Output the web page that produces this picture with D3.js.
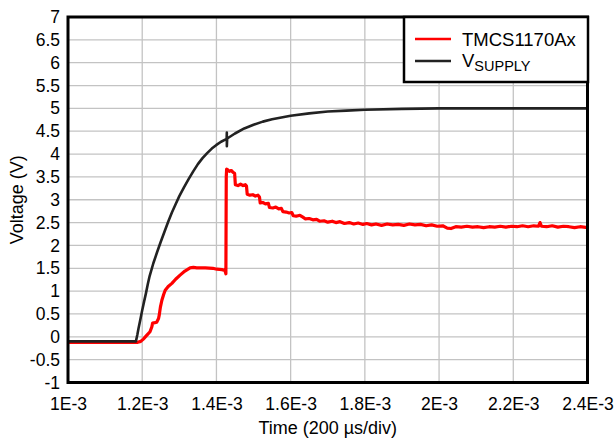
<!DOCTYPE html>
<html>
<head>
<meta charset="utf-8">
<script src="https://cdn.jsdelivr.net/npm/d3@7/dist/d3.min.js"></script>
<style>
  html, body { margin: 0; padding: 0; background: #fff; }
  svg { display: block; }
  text { font-family: "Liberation Sans", Arial, sans-serif; fill: #000; }
</style>
</head>
<body>
<svg id="chart" width="616" height="439"></svg>
<script>
// Time axis in milliseconds; labels are written in seconds.
const timeTicks = [1.0, 1.2, 1.4, 1.6, 1.8, 2.0, 2.2, 2.4];
const timeTickLabels = ["1E-3", "1.2E-3", "1.4E-3", "1.6E-3", "1.8E-3", "2E-3", "2.2E-3", "2.4E-3"];
const voltTicks = [-1, -0.5, 0, 0.5, 1, 1.5, 2, 2.5, 3, 3.5, 4, 4.5, 5, 5.5, 6, 6.5, 7];
const voltTickLabels = ["-1", "-0.5", "0", "0.5", "1", "1.5", "2", "2.5", "3", "3.5", "4", "4.5", "5", "5.5", "6", "6.5", "7"];

const seriesNames = ["TMCS1170Ax", "VSUPPLY"];

// Sensor output (TMCS1170Ax)
const sensorTime = [
  1.000, 1.188, 1.196, 1.203, 1.212, 1.221, 1.226, 1.228, 1.234, 1.239,
  1.244, 1.246, 1.249, 1.253, 1.258, 1.262, 1.270, 1.280, 1.290, 1.302,
  1.315, 1.329, 1.338, 1.347, 1.370, 1.390, 1.401, 1.415, 1.423, 1.4255,
  1.4260, 1.4265, 1.4275, 1.430, 1.435, 1.440, 1.445, 1.449, 1.451, 1.458,
  1.465, 1.472, 1.478, 1.481, 1.483, 1.490, 1.498, 1.505, 1.512, 1.516,
  1.518, 1.525, 1.532, 1.540, 1.543, 1.552, 1.560, 1.568, 1.575, 1.579,
  1.588, 1.596, 1.603, 1.607, 1.615, 1.625, 1.633, 1.640, 1.650, 1.660,
  1.670, 1.678, 1.690, 1.700, 1.712, 1.722, 1.733, 1.745, 1.758, 1.770,
  1.782, 1.795, 1.805, 1.818, 1.830, 1.845, 1.860, 1.875, 1.890, 1.905,
  1.920, 1.935, 1.950, 1.965, 1.980, 1.995, 2.010, 2.022, 2.032, 2.045,
  2.060, 2.075, 2.090, 2.105, 2.120, 2.135, 2.150, 2.165, 2.180, 2.195,
  2.210, 2.225, 2.240, 2.255, 2.268, 2.272, 2.276, 2.290, 2.305, 2.320,
  2.335, 2.350, 2.365, 2.380, 2.400
];
const sensorVolt = [
  -0.12, -0.12, -0.10, -0.05, 0.03, 0.11, 0.22, 0.30, 0.31, 0.32,
  0.40, 0.48, 0.65, 0.80, 0.93, 1.02, 1.10, 1.17, 1.26, 1.35,
  1.44, 1.51, 1.52, 1.51, 1.51, 1.50, 1.48, 1.47, 1.45, 1.38,
  2.50, 3.50, 3.67, 3.66, 3.62, 3.64, 3.60, 3.58, 3.33, 3.31,
  3.34, 3.31, 3.33, 3.30, 3.12, 3.10, 3.11, 3.08, 3.10, 3.06,
  2.93, 2.94, 2.91, 2.92, 2.83, 2.82, 2.84, 2.80, 2.81, 2.74,
  2.73, 2.71, 2.72, 2.65, 2.64, 2.66, 2.62, 2.58, 2.59, 2.56,
  2.57, 2.53, 2.54, 2.51, 2.53, 2.50, 2.52, 2.48, 2.50, 2.47,
  2.49, 2.46, 2.48, 2.45, 2.47, 2.44, 2.47, 2.45, 2.46, 2.44,
  2.47, 2.45, 2.46, 2.43, 2.45, 2.42, 2.43, 2.38, 2.37, 2.41,
  2.40, 2.42, 2.40, 2.41, 2.39, 2.41, 2.40, 2.42, 2.40, 2.42,
  2.41, 2.43, 2.41, 2.43, 2.42, 2.50, 2.42, 2.41, 2.43, 2.40,
  2.42, 2.41, 2.39, 2.41, 2.39
];

// Supply voltage ramp (with the short glitch mark near 1.428 ms)
const supplyTime = [
  1.000, 1.183, 1.187, 1.190, 1.195, 1.200, 1.205, 1.210, 1.215, 1.220,
  1.230, 1.240, 1.250, 1.260, 1.270, 1.280, 1.290, 1.300, 1.3125, 1.325,
  1.3375, 1.350, 1.3625, 1.375, 1.3875, 1.400, 1.4125, 1.425, 1.4275, 1.4280,
  1.4281, 1.4290, 1.450, 1.475, 1.500, 1.525, 1.550, 1.575, 1.600, 1.650,
  1.700, 1.750, 1.800, 1.900, 2.000, 2.400
];
const supplyVolt = [
  -0.10, -0.10, 0.05, 0.18, 0.38, 0.58, 0.77, 0.95, 1.15, 1.33,
  1.61, 1.85, 2.08, 2.30, 2.52, 2.72, 2.90, 3.08, 3.27, 3.45,
  3.62, 3.78, 3.91, 4.02, 4.12, 4.20, 4.27, 4.32, 4.33, 4.47,
  4.17, 4.34, 4.45, 4.56, 4.64, 4.71, 4.76, 4.80, 4.84, 4.89,
  4.93, 4.95, 4.97, 4.99, 5.00, 5.00
];

const colors = ["#ff0000", "#222222"];

const svg = d3.select("#chart");
const plotLeft = 68, plotRight = 587.5, plotTop = 17, plotBottom = 382.5;

const x = d3.scaleLinear().domain([1.0, 2.4]).range([plotLeft, plotRight]);
const y = d3.scaleLinear().domain([-1, 7]).range([plotBottom, plotTop]);

// Grid
const grid = svg.append("g").attr("stroke", "#c3c3c3").attr("stroke-width", 1.3);
grid.selectAll("line.v").data(timeTicks).join("line").attr("class", "v")
  .attr("x1", d => x(d)).attr("x2", d => x(d))
  .attr("y1", plotTop).attr("y2", plotBottom);
grid.selectAll("line.h").data(voltTicks).join("line").attr("class", "h")
  .attr("x1", plotLeft).attr("x2", plotRight)
  .attr("y1", d => y(d)).attr("y2", d => y(d));

// Axes (labels only)
const xAxis = d3.axisBottom(x).tickValues(timeTicks)
  .tickFormat((d, i) => timeTickLabels[i]).tickSize(0).tickPadding(15);
const yAxis = d3.axisLeft(y).tickValues(voltTicks)
  .tickFormat((d, i) => voltTickLabels[i]).tickSize(0).tickPadding(8);

const gx = svg.append("g").attr("transform", `translate(0,${plotBottom})`).call(xAxis);
const gy = svg.append("g").attr("transform", `translate(${plotLeft},0)`).call(yAxis);
[gx, gy].forEach(g => {
  g.select(".domain").remove();
  g.selectAll("text").attr("font-size", 17.5)
    .attr("font-family", "'Liberation Sans', Arial, sans-serif").attr("fill", "#000");
});

// Series
const line = d3.line().x(d => x(d[0])).y(d => y(d[1]));
const sensorData = sensorTime.map((t, i) => [t, sensorVolt[i]]);
const supplyData = supplyTime.map((t, i) => [t, supplyVolt[i]]);

const plot = svg.append("g");
plot.append("path").datum(sensorData).attr("d", line)
  .attr("fill", "none").attr("stroke", colors[0]).attr("stroke-width", 3.2)
  .attr("stroke-linejoin", "round");
plot.append("path").datum(supplyData).attr("d", line)
  .attr("fill", "none").attr("stroke", colors[1]).attr("stroke-width", 2.6)
  .attr("stroke-linejoin", "round");

// Frame
svg.append("rect").attr("x", plotLeft).attr("y", plotTop)
  .attr("width", plotRight - plotLeft).attr("height", plotBottom - plotTop)
  .attr("fill", "none").attr("stroke", "#000").attr("stroke-width", 3);

// Axis titles
svg.append("text").attr("x", (plotLeft + plotRight) / 2).attr("y", 434)
  .attr("text-anchor", "middle").attr("font-size", 18)
  .text("Time (200 \u00b5s/div)");
svg.append("text")
  .attr("transform", `translate(23,${(plotTop + plotBottom) / 2}) rotate(-90)`)
  .attr("text-anchor", "middle").attr("font-size", 18)
  .text("Voltage (V)");

// Legend
const lg = svg.append("g");
lg.append("rect").attr("x", 404).attr("y", 17).attr("width", 184).attr("height", 65)
  .attr("fill", "#fff").attr("stroke", "#000").attr("stroke-width", 2.5);
const rows = [39, 61];
rows.forEach((ry, i) => {
  lg.append("line").attr("x1", 415).attr("x2", 451).attr("y1", ry).attr("y2", ry)
    .attr("stroke", colors[i]).attr("stroke-width", 2.5);
});
lg.append("text").attr("x", 462).attr("y", 45.5).attr("font-size", 18.5).text(seriesNames[0]);
const vs = lg.append("text").attr("x", 462).attr("y", 67).attr("font-size", 18.5);
vs.append("tspan").text(seriesNames[1].charAt(0));
vs.append("tspan").attr("font-size", 14.5).attr("dy", 4).text(seriesNames[1].slice(1));
</script>
</body>
</html>
